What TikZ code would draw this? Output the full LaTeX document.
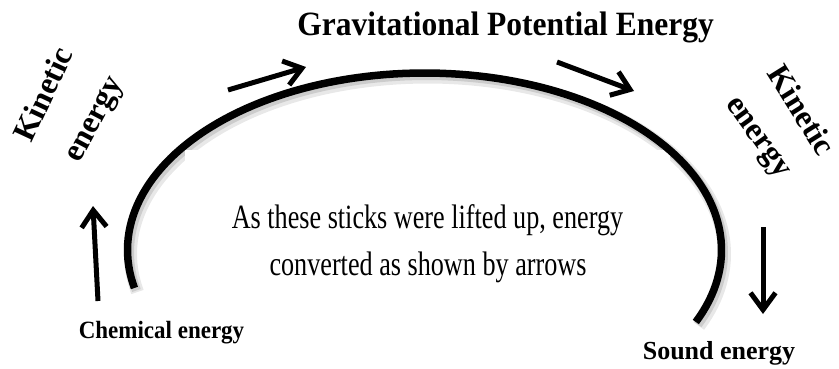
\documentclass[tikz,border=0pt]{standalone}
\usepackage{fontspec}
\setmainfont{Liberation Serif}
\usetikzlibrary{arrows.meta}
\tikzset{
  flowarrow/.style={line width=5pt, -{Straight Barb[length=17pt,width=25pt]}},
  bigbold/.style={font=\fontsize{31.5}{31.5}\selectfont\bfseries, inner sep=0pt},
  sidebold/.style={font=\fontsize{32}{32}\selectfont\bfseries, inner sep=0pt},
  labelbold/.style={font=\fontsize{23}{23}\selectfont\bfseries, inner sep=0pt, anchor=base},
  bodytext/.style={font=\fontsize{34}{34}\selectfont, inner sep=0pt, anchor=base},
}
\begin{document}
\begin{tikzpicture}[x=1pt,y=1pt,yscale=-1]
\useasboundingbox (0,0) rectangle (839,368);
% shadow of the arc
\draw[gray!18, line width=13pt] plot[domain=167.6:384, samples=120] ({427.5+297*cos(\x)}, {254+177*sin(\x)});
\draw[gray!40, line width=9pt] plot[domain=167.6:384, samples=120] ({426.5+297*cos(\x)}, {252.5+177*sin(\x)});
\fill[white] (185,150) rectangle (670,336);
% arc
\draw[black, line width=7.5pt] plot[domain=167.6:384, samples=120] ({424.5+297*cos(\x)}, {250+177*sin(\x)});
% title
\node[bigbold, anchor=base] (title) at (505.5,35) {\scalebox{1}[1.08]{Gravitational Potential Energy}};
% side labels
\node[sidebold, rotate=65] (kinL) at (43,94) {Kinetic};
\node[sidebold, rotate=62] (enL) at (97,121) {energy};
\node[sidebold, rotate=-58] (kinR) at (802,110) {Kinetic};
\node[sidebold, rotate=-54] (enR) at (756,139) {energy};
% bottom labels
\node[labelbold] (chem) at (161.5,338) {\scalebox{1}[1.08]{Chemical energy}};
\node[labelbold, font=\fontsize{26}{26}\selectfont\bfseries] (sound) at (719,359) {Sound energy};
% center text
\node[bodytext] (line1) at (427.5,228) {\scalebox{0.77}[1]{As these sticks were lifted up, energy}};
\node[bodytext] (line2) at (428,275) {\scalebox{0.77}[1]{converted as shown by arrows}};
% arrows
\coordinate (upA) at (98,301); \coordinate (upB) at (93,206);
\coordinate (tlA) at (228,90); \coordinate (tlB) at (306,67);
\coordinate (trA) at (557,62); \coordinate (trB) at (634,91);
\coordinate (dnA) at (763,227); \coordinate (dnB) at (763,314);
\draw[flowarrow] (upA) -- (upB);
\draw[flowarrow] (tlA) -- (tlB);
\draw[flowarrow] (trA) -- (trB);
\draw[flowarrow] (dnA) -- (dnB);
\end{tikzpicture}
\end{document}
